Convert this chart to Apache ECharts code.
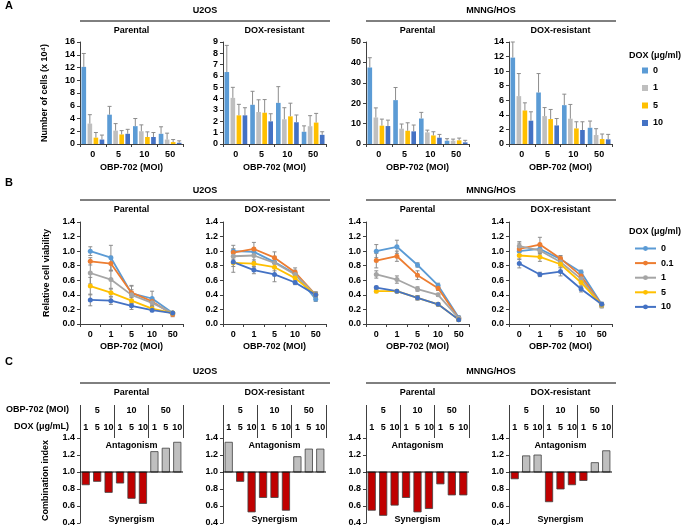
<!DOCTYPE html>
<html>
<head>
<meta charset="utf-8">
<script src="https://cdn.jsdelivr.net/npm/echarts@6/dist/echarts.min.js"></script>
<style>
  html, body { margin: 0; padding: 0; background: #fff; }
  #chart-container { width: 685px; height: 527px; }
</style>
</head>
<body>
<div id="chart-container"></div>
<script>
// categories
const doseA = ["0", "5", "10", "50"];
const doseB = ["0", "1", "5", "10", "50"];
const doxA = ["0", "1", "5", "10"];
const doxB = ["0", "0.1", "1", "5", "10"];
const comboDox = ["1", "5", "10", "1", "5", "10", "1", "5", "10"];
const comboMoi = ["5", "10", "50"];
const panelNames = ["Parental", "DOX-resistant", "Parental", "DOX-resistant"];

// A: number of cells (x 10^4), one row per DOX dose
const cellsU2osPar = [[12.1, 4.6, 2.8, 1.6], [3.2, 2.1, 2.0, 0.7], [1.0, 1.5, 1.1, 0.3], [0.7, 1.6, 1.1, 0.2]];
const cellsU2osParErr = [[2.1, 1.3, 1.2, 1.1], [1.4, 1.1, 1.0, 1.0], [0.8, 0.6, 0.8, 0.4], [0.7, 0.7, 0.7, 0.3]];
const cellsU2osRes = [[6.35, 3.46, 3.63, 1.08], [4.07, 2.82, 2.18, 1.57], [2.53, 2.76, 2.44, 1.89], [2.53, 2.0, 1.92, 0.81]];
const cellsU2osResErr = [[2.35, 1.19, 1.43, 0.52], [0.93, 1.08, 1.02, 0.93], [0.97, 1.16, 1.16, 0.81], [0.67, 0.67, 0.64, 0.27]];
const cellsHosPar = [[37.5, 21.5, 12.5, 1.6], [13.0, 7.5, 5.7, 1.6], [9.0, 6.5, 4.2, 1.8], [8.8, 6.2, 3.1, 0.8]];
const cellsHosParErr = [[4.8, 6.2, 3.0, 1.0], [4.7, 2.3, 1.1, 0.8], [3.2, 3.9, 1.8, 1.1], [2.9, 3.1, 1.6, 1.0]];
const cellsHosRes = [[11.86, 7.07, 5.33, 2.23], [6.57, 3.83, 3.47, 1.23], [4.6, 3.42, 2.14, 0.68], [3.2, 2.55, 1.92, 0.64]];
const cellsHosResErr = [[2.14, 2.6, 1.51, 0.92], [3.1, 1.17, 1.96, 0.87], [1.05, 1.32, 0.91, 0.69], [1.22, 0.95, 1.13, 0.68]];
const cellsMax = [16, 9, 50, 14];
const cellsStep = [2, 1, 10, 2];

// B: relative cell viability, one row per DOX dose
const viaU2osPar = [[1.0, 0.91, 0.42, 0.35, 0.15], [0.86, 0.83, 0.43, 0.31, 0.13], [0.70, 0.61, 0.40, 0.29, 0.15], [0.52, 0.43, 0.32, 0.21, 0.15], [0.33, 0.32, 0.25, 0.19, 0.15]];
const viaU2osParErr = [[0.06, 0.17, 0.05, 0.1, 0.02], [0.05, 0.1, 0.1, 0.05, 0.03], [0.15, 0.12, 0.12, 0.05, 0.02], [0.12, 0.05, 0.04, 0.03, 0.02], [0.08, 0.05, 0.05, 0.02, 0.02]];
const viaU2osRes = [[1.0, 0.99, 0.85, 0.69, 0.34], [0.98, 1.03, 0.91, 0.71, 0.40], [0.93, 0.94, 0.84, 0.68, 0.40], [0.84, 0.83, 0.78, 0.63, 0.40], [0.85, 0.74, 0.68, 0.57, 0.40]];
const viaU2osResErr = [[0.08, 0.05, 0.08, 0.05, 0.03], [0.05, 0.09, 0.08, 0.06, 0.04], [0.1, 0.08, 0.06, 0.05, 0.03], [0.05, 0.05, 0.05, 0.05, 0.03], [0.14, 0.05, 0.1, 0.03, 0.04]];
const viaHosPar = [[1.0, 1.06, 0.81, 0.53, 0.09], [0.87, 0.93, 0.67, 0.49, 0.08], [0.68, 0.61, 0.48, 0.40, 0.08], [0.45, 0.45, 0.36, 0.27, 0.06], [0.50, 0.45, 0.36, 0.27, 0.06]];
const viaHosParErr = [[0.09, 0.09, 0.03, 0.03, 0.02], [0.1, 0.07, 0.06, 0.03, 0.02], [0.05, 0.05, 0.03, 0.02, 0.02], [0.02, 0.02, 0.03, 0.02, 0.02], [0.02, 0.02, 0.03, 0.02, 0.02]];
const viaHosRes = [[1.0, 1.03, 0.89, 0.71, 0.27], [1.03, 1.09, 0.90, 0.66, 0.26], [1.07, 1.01, 0.85, 0.62, 0.25], [0.94, 0.92, 0.82, 0.57, 0.26], [0.83, 0.68, 0.72, 0.48, 0.27]];
const viaHosResErr = [[0.05, 0.06, 0.04, 0.03, 0.02], [0.08, 0.1, 0.04, 0.04, 0.03], [0.06, 0.05, 0.05, 0.04, 0.03], [0.05, 0.06, 0.05, 0.05, 0.03], [0.06, 0.03, 0.06, 0.04, 0.03]];

// C: combination index
const ciU2osPar = [0.85, 0.89, 0.76, 0.87, 0.69, 0.63, 1.24, 1.28, 1.35];
const ciU2osRes = [1.35, 0.89, 0.53, 0.70, 0.70, 0.55, 1.18, 1.27, 1.27];
const ciHosPar = [0.55, 0.49, 0.61, 0.70, 0.53, 0.57, 0.86, 0.73, 0.73];
const ciHosRes = [0.92, 1.19, 1.20, 0.65, 0.80, 0.85, 0.90, 1.11, 1.25];

const cellsAll = [cellsU2osPar, cellsU2osRes, cellsHosPar, cellsHosRes];
const cellsErrAll = [cellsU2osParErr, cellsU2osResErr, cellsHosParErr, cellsHosResErr];
const viaAll = [viaU2osPar, viaU2osRes, viaHosPar, viaHosRes];
const viaErrAll = [viaU2osParErr, viaU2osResErr, viaHosParErr, viaHosResErr];
const ciAll = [ciU2osPar, ciU2osRes, ciHosPar, ciHosRes];

const colorsA = ["#5b9bd5", "#bfbfbf", "#ffc000", "#4472c4"];
const colorsB = ["#5b9bd5", "#ed7d31", "#a5a5a5", "#ffc000", "#4472c4"];
const errColor = "#8c8c8c";
const font = "Liberation Sans, Arial, sans-serif";

// layout
const colLeft = [80, 223, 366, 509];
const colW = 103;
const rowTop = [42, 222, 438];
const rowH = [102, 102, 85];

const tickText = { color: "#000", fontSize: 9, fontWeight: "bold", fontFamily: font };
const nameText = { color: "#000", fontSize: 9, fontWeight: "bold", fontFamily: font };
const axLine = { show: true, lineStyle: { color: "#404040", width: 1 } };
const axTick = { show: true, length: 3, lineStyle: { color: "#404040", width: 1 } };

function barItem(k) {
  return function (params, api) {
    const i = api.value(0);
    const v = api.value(1);
    const band = api.size([1, 0])[0];
    const w = band * 0.18;
    const cx = api.coord([i, 0])[0] + (k - 1.5) * band * 0.235;
    const y0 = api.coord([i, 0])[1];
    const y1 = api.coord([i, v])[1];
    const ye = api.coord([i, v + api.value(2)])[1];
    return {
      type: "group",
      children: [
        { type: "rect", shape: { x: cx - w / 2, y: y1, width: w, height: y0 - y1 }, style: { fill: api.visual("color") } },
        { type: "line", shape: { x1: cx, y1: y1, x2: cx, y2: ye }, style: { stroke: errColor, lineWidth: 1 } },
        { type: "line", shape: { x1: cx - 2, y1: ye, x2: cx + 2, y2: ye }, style: { stroke: errColor, lineWidth: 1 } },
      ],
    };
  };
}

function errItem(params, api) {
  const i = api.value(0);
  const v = api.value(1);
  const e = api.value(2);
  const p = api.coord([i, v + e]);
  const q = api.coord([i, v - e]);
  return {
    type: "group",
    children: [
      { type: "line", shape: { x1: p[0], y1: p[1], x2: q[0], y2: q[1] }, style: { stroke: errColor, lineWidth: 1 } },
      { type: "line", shape: { x1: p[0] - 2, y1: p[1], x2: p[0] + 2, y2: p[1] }, style: { stroke: errColor, lineWidth: 1 } },
      { type: "line", shape: { x1: q[0] - 2, y1: q[1], x2: q[0] + 2, y2: q[1] }, style: { stroke: errColor, lineWidth: 1 } },
    ],
  };
}

function ciItem(params, api) {
  const i = api.value(0);
  const v = api.value(1);
  const band = api.size([1, 0])[0];
  const w = band * 0.64;
  const base = api.coord([i, 1]);
  const top = api.coord([i, v]);
  return {
    type: "group",
    children: [
      {
        type: "rect",
        shape: { x: base[0] - w / 2, y: Math.min(base[1], top[1]), width: w, height: Math.abs(top[1] - base[1]) },
        style: { fill: v >= 1 ? "#bfbfbf" : "#c00000", stroke: "#404040", lineWidth: 0.8 },
      },
      { type: "line", shape: { x1: base[0] - band / 2, y1: base[1], x2: base[0] + band / 2, y2: base[1] }, style: { stroke: "#000", lineWidth: 1 } },
    ],
  };
}

const grid = [];
const xAxis = [];
const yAxis = [];
const series = [];

// row A
for (let c = 0; c < 4; c++) {
  const g = grid.length;
  grid.push({ left: colLeft[c], top: rowTop[0], width: colW, height: rowH[0], outerBoundsMode: "none" });
  xAxis.push({
    gridIndex: g, type: "category", data: doseA, axisLine: axLine, axisTick: axTick,
    axisLabel: Object.assign({ margin: 6, interval: 0 }, tickText),
    name: "OBP-702 (MOI)", nameLocation: "middle", nameGap: 19, nameTextStyle: nameText,
  });
  yAxis.push({
    gridIndex: g, type: "value", min: 0, max: cellsMax[c], interval: cellsStep[c],
    axisLine: axLine, axisTick: axTick, splitLine: { show: false },
    axisLabel: Object.assign({ margin: 5 }, tickText),
    name: c === 0 ? "Number of cells (x 10⁴)" : "", nameLocation: "middle", nameGap: 31, nameRotate: 90, nameTextStyle: nameText,
  });
  for (let k = 0; k < 4; k++) {
    series.push({
      type: "custom", name: "a:" + doxA[k], xAxisIndex: xAxis.length - 1, yAxisIndex: yAxis.length - 1,
      color: colorsA[k], renderItem: barItem(k), encode: { x: 0, y: 1 },
      data: cellsAll[c][k].map((v, i) => [i, v, cellsErrAll[c][k][i]]),
    });
  }
}

// row B
for (let c = 0; c < 4; c++) {
  const g = grid.length;
  grid.push({ left: colLeft[c], top: rowTop[1], width: colW, height: rowH[1], outerBoundsMode: "none" });
  xAxis.push({
    gridIndex: g, type: "category", data: doseB, axisLine: axLine, axisTick: axTick,
    axisLabel: Object.assign({ margin: 6, interval: 0 }, tickText),
    name: "OBP-702 (MOI)", nameLocation: "middle", nameGap: 18, nameTextStyle: nameText,
  });
  yAxis.push({
    gridIndex: g, type: "value", min: 0, max: 1.4, interval: 0.2,
    axisLine: axLine, axisTick: axTick, splitLine: { show: false },
    axisLabel: Object.assign({ margin: 5, formatter: (v) => v.toFixed(1) }, tickText),
    name: c === 0 ? "Relative cell viability" : "", nameLocation: "middle", nameGap: 29, nameRotate: 90, nameTextStyle: nameText,
  });
  const xi = xAxis.length - 1;
  const yi = yAxis.length - 1;
  for (let k = 0; k < 5; k++) {
    series.push({
      type: "line", name: "b:" + doxB[k], xAxisIndex: xi, yAxisIndex: yi, color: colorsB[k],
      symbol: "circle", symbolSize: 5, lineStyle: { width: 1.8 }, data: viaAll[c][k],
    });
  }
  for (let k = 0; k < 5; k++) {
    series.push({
      type: "custom", xAxisIndex: xi, yAxisIndex: yi, renderItem: errItem, encode: { x: 0, y: 1 }, z: 3,
      data: viaAll[c][k].map((v, i) => [i, v, viaErrAll[c][k][i]]),
    });
  }
}

// row C
for (let c = 0; c < 4; c++) {
  const g = grid.length;
  grid.push({ left: colLeft[c], top: rowTop[2], width: colW, height: rowH[2], outerBoundsMode: "none" });
  xAxis.push({
    gridIndex: g, type: "category", data: comboDox, position: "top",
    axisLine: { show: false }, axisTick: { show: false },
    axisLabel: Object.assign({ margin: 6, interval: 0 }, tickText),
  });
  const xi = xAxis.length - 1;
  xAxis.push({
    gridIndex: g, type: "category", data: comboMoi, position: "top",
    axisLine: { show: false }, axisTick: { show: true, length: 33, lineStyle: { color: "#404040", width: 1 } },
    axisLabel: Object.assign({ margin: 23, interval: 0 }, tickText),
  });
  yAxis.push({
    gridIndex: g, type: "value", min: 0.4, max: 1.4, interval: 0.2,
    axisLine: axLine, axisTick: axTick, splitLine: { show: false },
    axisLabel: Object.assign({ margin: 5, formatter: (v) => v.toFixed(1) }, tickText),
    name: c === 0 ? "Combination index" : "", nameLocation: "middle", nameGap: 30, nameRotate: 90, nameTextStyle: nameText,
  });
  series.push({
    type: "custom", xAxisIndex: xi, yAxisIndex: yAxis.length - 1, renderItem: ciItem, encode: { x: 0, y: 1 },
    data: ciAll[c].map((v, i) => [i, v]),
  });
}

// texts and divider lines
function txt(text, x, y, align, size) {
  return {
    type: "text", x: x, y: y,
    style: {
      text: text, fill: "#000", font: "bold " + (size || 9) + "px " + font,
      align: align || "center", textAlign: align || "center", verticalAlign: "middle", textVerticalAlign: "middle",
    },
  };
}
function hline(x1, x2, y) {
  return { type: "line", shape: { x1: x1, y1: y, x2: x2, y2: y }, style: { stroke: "#000", lineWidth: 1 } };
}

const graphic = [];
const rowLetter = ["A", "B", "C"];
const letterY = [6, 183, 362];
const groupY = [11, 191, 372];
const ruleY = [21, 200, 383];
const panelY = [31, 210, 393];
for (let r = 0; r < 3; r++) {
  graphic.push(txt(rowLetter[r], 5, letterY[r], "left", 11));
  graphic.push(txt("U2OS", 205, groupY[r]));
  graphic.push(txt("MNNG/HOS", 491, groupY[r]));
  graphic.push(hline(80, 330, ruleY[r]));
  graphic.push(hline(366, 616, ruleY[r]));
  for (let c = 0; c < 4; c++) {
    graphic.push(txt(panelNames[c], colLeft[c] + colW / 2, panelY[r]));
  }
}
for (let c = 0; c < 4; c++) {
  graphic.push(txt("Antagonism", colLeft[c] + colW / 2, 446));
  graphic.push(txt("Synergism", colLeft[c] + colW / 2, 520));
}
graphic.push(txt("OBP-702 (MOI)", 69, 410, "right"));
graphic.push(txt("DOX (μg/mL)", 69, 427, "right"));
graphic.push(txt("DOX (μg/ml)", 629, 56, "left"));
graphic.push(txt("DOX (μg/ml)", 629, 232, "left"));

const legendText = { color: "#000", fontSize: 9, fontWeight: "bold", fontFamily: font };

const option = {
  animation: false,
  grid: grid,
  xAxis: xAxis,
  yAxis: yAxis,
  series: series,
  graphic: graphic,
  legend: [
    {
      data: doxA.map((d) => "a:" + d), orient: "vertical", left: 642, top: 66, padding: 0,
      icon: "rect", itemWidth: 6, itemHeight: 6, itemGap: 8.5, selectedMode: false,
      formatter: (n) => n.slice(2), textStyle: legendText,
    },
    {
      data: doxB.map((d) => "b:" + d), orient: "vertical", left: 634, top: 244, padding: 0,
      itemWidth: 21, itemHeight: 6, itemGap: 5.6, selectedMode: false,
      formatter: (n) => n.slice(2), textStyle: legendText,
    },
  ],
};

const dom = document.getElementById("chart-container");
const myChart = echarts.init(dom, null, { renderer: "canvas" });
myChart.setOption(option);
window.addEventListener("resize", myChart.resize);
</script>
</body>
</html>
